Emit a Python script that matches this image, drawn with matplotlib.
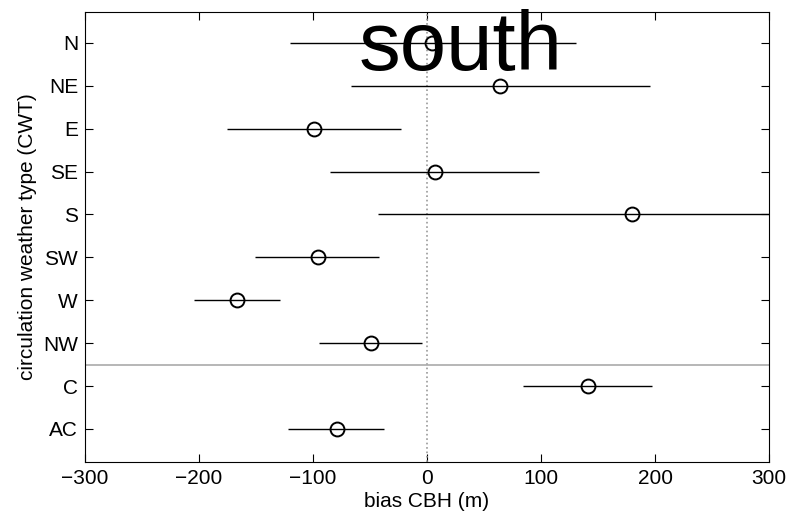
import numpy as np
import matplotlib
matplotlib.use('Agg')
import matplotlib.pyplot as plt

plt.rcParams['font.family'] = ['Liberation Sans', 'DejaVu Sans']

cwt = ['N', 'NE', 'E', 'SE', 'S', 'SW', 'W', 'NW', 'C', 'AC']
bias = [4, 64, -99, 7, 180, -96, -167, -49, 141, -79]
low = [-120, -67, -175, -85, -43, -151, -204, -95, 84, -122]
high = [131, 196, -23, 98, 330, -42, -129, -4, 197, -38]

bias = np.array(bias)
err = np.vstack([bias - np.array(low), np.array(high) - bias])
ypos = np.arange(1, len(cwt) + 1)

fig = plt.figure(figsize=(7.89, 5.20), dpi=100)
ax = fig.add_axes([0.1077, 0.1115, 0.8670, 0.8655])

ax.axvline(0, color='#999999', linestyle=':', linewidth=1.2)
ax.axhline(8.5, color='#aaaaaa', linewidth=1.2)
ax.errorbar(bias, ypos, xerr=err, fmt='o', color='black', ecolor='black',
            markerfacecolor='none', markersize=10, markeredgewidth=1.4,
            elinewidth=1.0, capsize=0)

ax.set_xlim(-300, 300)
ax.set_ylim(10.77, 0.28)
ax.set_yticks(ypos)
ax.set_yticklabels(cwt)
ax.set_xticks(np.arange(-300, 301, 100))
ax.set_xticklabels(['\u2212300', '\u2212200', '\u2212100', '0', '100', '200', '300'])
ax.tick_params(direction='in', top=True, right=True, labelsize=15, length=6, pad=5)
ax.set_xlabel('bias CBH (m)', fontsize=15, labelpad=3)
ax.set_ylabel('circulation weather type (CWT)', fontsize=15, labelpad=4)

ax.text(0.549, 0.87, 'south', transform=ax.transAxes, ha='center',
        va='baseline', fontsize=60)

fig.savefig('out.png', dpi=100)
